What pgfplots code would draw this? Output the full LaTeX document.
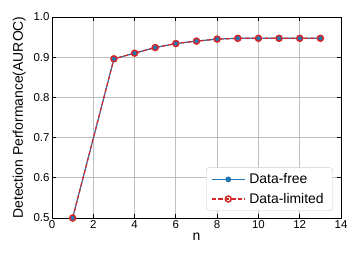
\documentclass[border=0pt]{standalone}
\usepackage{pgfplots}
\pgfplotsset{compat=1.18}
\usepackage{fontspec}
\setmainfont{Liberation Sans}
\definecolor{mblue}{HTML}{1F77B4}
\definecolor{mred}{HTML}{D62728}
\begin{document}
\begin{tikzpicture}
\begin{axis}[
  scale only axis,
  width=289bp, height=201bp,
  xmin=0, xmax=14, ymin=0.5, ymax=1.0,
  xtick={0,2,...,14},
  ytick={0.5,0.6,0.7,0.8,0.9,1.0},
  yticklabel style={/pgf/number format/fixed,/pgf/number format/fixed zerofill,/pgf/number format/precision=1},
  /pgf/number format/assume math mode=true,
  tick label style={font=\fontsize{11.5}{13}\selectfont},
  xticklabel style={yshift=1pt},
  yticklabel style={xshift=1pt},
  label style={font=\fontsize{14}{16}\selectfont},
  xlabel={n}, ylabel={Detection Performance(AUROC)},
  xlabel style={yshift=2pt},
  ylabel style={yshift=1pt},
  grid=major,
  major grid style={line width=0.8pt, color=black!25},
  axis line style={line width=1pt},
  tick align=inside, tick pos=both,
  major tick length=4bp,
  tick style={line width=0.8pt, black},
  legend style={font=\fontsize{14}{16}\selectfont, draw=black!20, rounded corners=3pt, at={(0.972,0.035)}, anchor=south east, row sep=4pt, inner xsep=5pt, inner ysep=4pt, cells={anchor=west}, nodes={inner xsep=4pt}},
  legend image code/.code={\draw[mark repeat=2,mark phase=2] plot coordinates {(0cm,0cm)(0.58cm,0cm)(1.16cm,0cm)};},
  clip=false,
]
\addplot[color=mblue, line width=1.2pt, mark=*, mark size=2.3pt, mark options={solid, fill=mblue, draw=mblue}]
coordinates {(1,0.5)(3,0.896)(4,0.910)(5,0.924)(6,0.934)(7,0.940)(8,0.945)(9,0.947)(10,0.947)(11,0.947)(12,0.947)(13,0.947)};
\addlegendentry{Data-free}
\addplot[color=mred, line width=1.2pt, dash pattern=on 4.5pt off 2pt, mark=o, mark size=3pt, mark options={solid, line width=1.5pt, draw=mred, fill=none}]
coordinates {(1,0.5)(3,0.896)(4,0.910)(5,0.924)(6,0.934)(7,0.940)(8,0.945)(9,0.947)(10,0.947)(11,0.947)(12,0.947)(13,0.947)};
\addlegendentry{Data-limited}
\end{axis}
\path (current axis.south west) ++(-52bp,-47bp) rectangle ++(358bp,265bp);
\end{tikzpicture}
\end{document}
